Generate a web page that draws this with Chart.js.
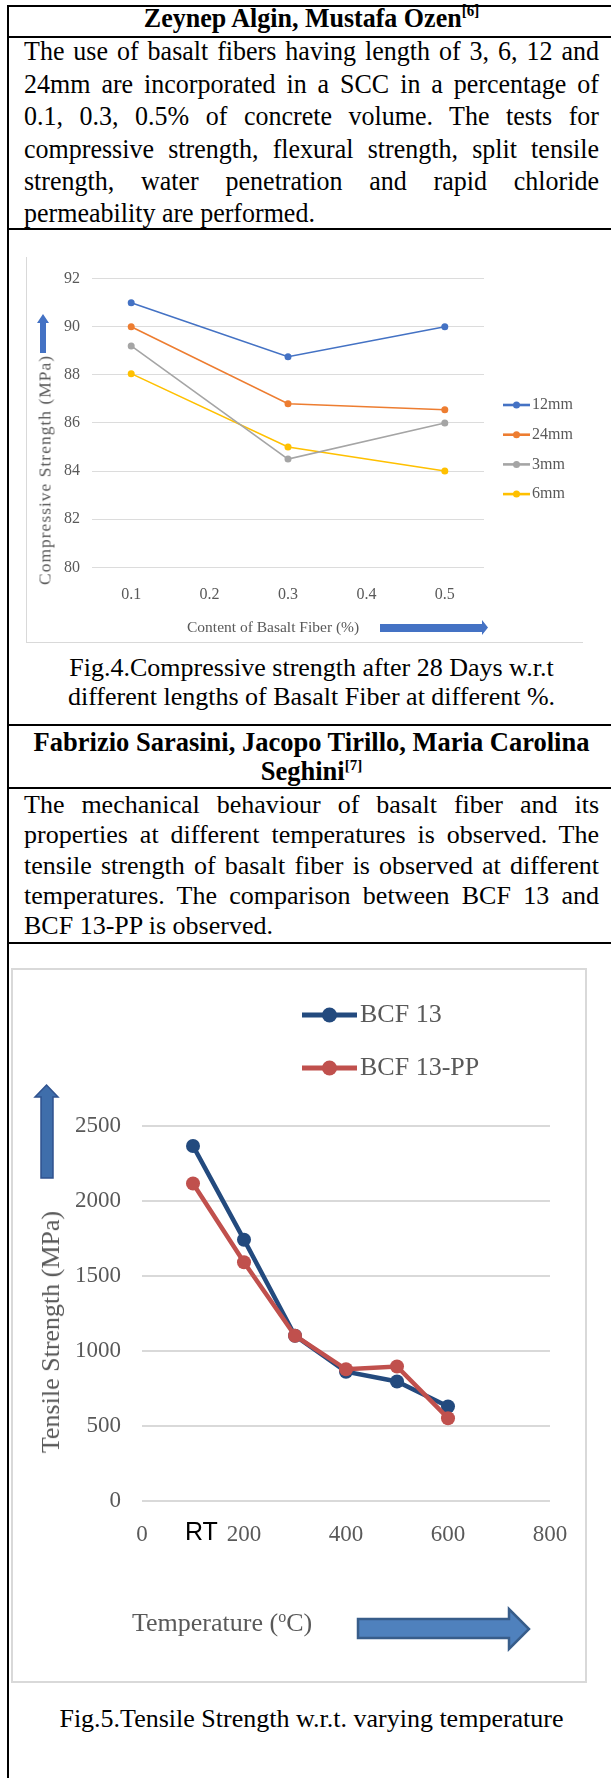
<!DOCTYPE html>
<html>
<head>
<meta charset="utf-8">
<script src="https://cdn.jsdelivr.net/npm/chart.js@4.4.1/dist/chart.umd.min.js"></script>
<style>
html,body{margin:0;padding:0;background:#fff;}
body{width:611px;height:1778px;position:relative;overflow:hidden;font-family:"Liberation Serif","Times New Roman",serif;color:#000;}
.hl{position:absolute;background:#000;height:2px;left:7px;width:604px;}
.vl{position:absolute;background:#000;width:2px;left:7px;top:5px;height:1773px;}
.t{position:absolute;left:24px;width:575px;font-size:26px;line-height:30px;height:30px;}
.s{transform:scaleY(1.09);}
.j{text-align:justify;text-align-last:justify;}
.c{left:0;width:623px;text-align:center;}
.b{font-weight:bold;}
.sp{font-size:15px;line-height:0;vertical-align:baseline;position:relative;top:-10px;}
.gray{color:#595959;}
.box{position:absolute;}
.rot{position:absolute;transform:translate(-50%,-50%) rotate(-90deg);white-space:nowrap;}
</style>
</head>
<body>
<!-- table rules -->
<div class="hl" style="top:5px"></div>
<div class="hl" style="top:36px"></div>
<div class="hl" style="top:228px"></div>
<div class="hl" style="top:724px"></div>
<div class="hl" style="top:787px"></div>
<div class="hl" style="top:942px"></div>
<div class="vl"></div>

<div class="t c b s" style="top:3px">Zeynep Algin, Mustafa Ozen<span class="sp">[6]</span></div>
<div class="t j s" style="top:36px">The use of basalt fibers having length of 3, 6, 12 and</div>
<div class="t j s" style="top:68.5px">24mm are incorporated in a SCC in a percentage of</div>
<div class="t j s" style="top:101px">0.1, 0.3, 0.5% of concrete volume. The tests for</div>
<div class="t j s" style="top:133.5px">compressive strength, flexural strength, split tensile</div>
<div class="t j s" style="top:166px">strength, water penetration and rapid chloride</div>
<div class="t s" style="top:198px">permeability are performed.</div>

<!-- chart 1 frame -->
<div class="box" style="left:26px;top:257px;width:1px;height:386px;background:#D9D9D9"></div>
<div class="box" style="left:26px;top:642px;width:557px;height:1px;background:#D9D9D9"></div>
<div class="box" style="left:26px;top:257px;width:557px;height:386px"><canvas id="c1"></canvas></div>
<div class="rot gray" style="left:45px;top:470px;font-size:17.5px;letter-spacing:1px">Compressive Strength (MPa)</div>
<div class="box gray" style="left:187px;top:617px;font-size:15.5px;line-height:20px;white-space:nowrap">Content of Basalt Fiber (%)</div>

<div class="t c" style="top:653px">Fig.4.Compressive strength after 28 Days w.r.t</div>
<div class="t c" style="top:682px">different lengths of Basalt Fiber at different %.</div>

<div class="t c b" style="top:727px;font-size:26.5px">Fabrizio Sarasini, Jacopo Tirillo, Maria Carolina</div>
<div class="t c b" style="top:756px;font-size:26.5px">Seghini<span class="sp">[7]</span></div>
<div class="t j" style="top:790px">The mechanical behaviour of basalt fiber and its</div>
<div class="t j" style="top:820px">properties at different temperatures is observed. The</div>
<div class="t j" style="top:851px">tensile strength of basalt fiber is observed at different</div>
<div class="t j" style="top:881px">temperatures. The comparison between BCF 13 and</div>
<div class="t" style="top:911px">BCF 13-PP is observed.</div>

<!-- chart 2 frame -->
<div class="box" style="left:11px;top:968px;width:576px;height:715px;border:2px solid #D9D9D9;box-sizing:border-box"></div>
<div class="box" style="left:11px;top:968px;width:576px;height:715px"><canvas id="c2"></canvas></div>
<div class="rot gray" style="left:51px;top:1332px;font-size:26px">Tensile Strength (MPa)</div>
<div class="box gray" style="left:132px;top:1607px;font-size:26px;line-height:32px;white-space:nowrap">Temperature (<span style="font-size:16px;position:relative;top:-9px">o</span>C)</div>
<div class="box" style="left:185px;top:1515px;font-size:25px;line-height:32px;font-family:'Liberation Sans Narrow','Liberation Sans',sans-serif;color:#000">RT</div>

<div class="t c" style="top:1704px">Fig.5.Tensile Strength w.r.t. varying temperature</div>

<svg width="611" height="1778" style="position:absolute;left:0;top:0;pointer-events:none">
  <polygon points="43,314 49,323 46,323 46,353 40,353 40,323 37,323" fill="#4472C4"/>
  <polygon points="380,624 482,624 482,620 488,627.5 482,635 482,632 380,632" fill="#4472C4"/>
  <polygon points="46.5,1085 58,1097 53,1097 53,1178 41,1178 41,1097 35,1097" fill="#3F6EAB" stroke="#2F528F" stroke-width="1.5"/>
  <polygon points="358,1619 509,1619 509,1609 529,1629 509,1649 509,1638 358,1638" fill="#4F81BD" stroke="#385D8A" stroke-width="2.5"/>
</svg>

<script>
// ---------- Chart 1 data ----------
const fiberContent = ['0.1', '0.2', '0.3', '0.4', '0.5'];
const seriesNames1 = ['12mm', '24mm', '3mm', '6mm'];
const cs12mm = [91.0, null, 88.75, null, 90.0];
const cs24mm = [90.0, null, 86.8, null, 86.55];
const cs3mm  = [89.2, null, 84.5, null, 86.0];
const cs6mm  = [88.05, null, 85.0, null, 84.0];
const csMin = 80, csMax = 92, csStep = 2;

// ---------- Chart 2 data ----------
const temperatures = [100, 200, 300, 400, 500, 600];
const seriesNames2 = ['BCF 13', 'BCF 13-PP'];
const tsBCF13   = [2365, 1740, 1100, 860, 795, 628];
const tsBCF13PP = [2115, 1590, 1100, 876, 895, 550];
const tsMin = 0, tsMax = 2500, tsStep = 500;
const tempMin = 0, tempMax = 800, tempStep = 200;

const SERIF = "'Liberation Serif','Times New Roman',serif";
const GRAY = '#595959';
const plain = v => String(v);

const sideLegend = {
  id: 'sideLegend',
  afterDraw(chart, args, o) {
    const ctx = chart.ctx;
    ctx.save();
    chart.data.datasets.forEach((ds, i) => {
      const y = o.y + i * o.gap;
      ctx.strokeStyle = ds.borderColor;
      ctx.lineWidth = o.lineWidth;
      ctx.beginPath(); ctx.moveTo(o.x0, y); ctx.lineTo(o.x1, y); ctx.stroke();
      ctx.fillStyle = ds.borderColor;
      ctx.beginPath(); ctx.arc((o.x0 + o.x1) / 2, y, o.r, 0, Math.PI * 2); ctx.fill();
      ctx.fillStyle = o.color;
      ctx.font = o.font;
      ctx.textBaseline = 'middle';
      ctx.textAlign = 'left';
      ctx.fillText(ds.label, o.tx, y);
    });
    ctx.restore();
  }
};

function ds1(label, data, color) {
  return { label, data, borderColor: color, backgroundColor: color, borderWidth: 1.6,
    pointRadius: 3.5, pointBorderWidth: 0, pointBackgroundColor: color, spanGaps: true, tension: 0 };
}

new Chart(document.getElementById('c1'), {
  type: 'line',
  data: {
    labels: fiberContent,
    datasets: [
      ds1(seriesNames1[0], cs12mm, '#4472C4'),
      ds1(seriesNames1[1], cs24mm, '#ED7D31'),
      ds1(seriesNames1[2], cs3mm, '#A5A5A5'),
      ds1(seriesNames1[3], cs6mm, '#FFC000')
    ]
  },
  options: {
    responsive: true, maintainAspectRatio: false, animation: false, devicePixelRatio: 1,
    layout: { padding: { left: 6, right: 99, top: 16.3, bottom: 39.7 } },
    plugins: {
      legend: { display: false }, tooltip: { enabled: false },
      sideLegend: { x0: 477, x1: 504, tx: 506, y: 148, gap: 29.7, lineWidth: 2.6, r: 3.5,
        font: '16px ' + SERIF, color: GRAY }
    },
    scales: {
      x: {
        type: 'category', offset: true,
        grid: { display: false }, border: { display: false },
        ticks: { font: { family: SERIF, size: 16 }, color: GRAY, padding: 10, maxRotation: 0 },
        afterFit: s => { s.height = 36; }
      },
      y: {
        min: csMin, max: csMax,
        ticks: { stepSize: csStep, font: { family: SERIF, size: 16 }, color: GRAY, padding: 12, callback: plain },
        grid: { color: '#DCDCDC', lineWidth: 1, drawTicks: false }, border: { display: false },
        afterFit: s => { s.width = 60; }
      }
    }
  },
  plugins: [sideLegend]
});

function ds2(label, ys, color, order) {
  return { label, data: temperatures.map((t, i) => ({ x: t, y: ys[i] })), borderColor: color,
    backgroundColor: color, borderWidth: 4.5, pointRadius: 7, pointBorderWidth: 0,
    pointBackgroundColor: color, tension: 0, order };
}

new Chart(document.getElementById('c2'), {
  type: 'line',
  data: {
    datasets: [
      ds2(seriesNames2[0], tsBCF13, '#234A7E', 2),
      ds2(seriesNames2[1], tsBCF13PP, '#C0504D', 1)
    ]
  },
  options: {
    responsive: true, maintainAspectRatio: false, animation: false, devicePixelRatio: 1,
    layout: { padding: { left: 6, right: 37, top: 157.7, bottom: 132.3 } },
    plugins: {
      legend: { display: false }, tooltip: { enabled: false },
      sideLegend: { x0: 291, x1: 346, tx: 349, y: 47, gap: 53, lineWidth: 5, r: 7.5,
        font: '26px ' + SERIF, color: GRAY }
    },
    scales: {
      x: {
        type: 'linear', min: tempMin, max: tempMax,
        grid: { display: false }, border: { display: false },
        ticks: { stepSize: tempStep, font: { family: SERIF, size: 23 }, color: GRAY, padding: 12, maxRotation: 0, callback: plain },
        afterFit: s => { s.height = 50; }
      },
      y: {
        min: tsMin, max: tsMax,
        ticks: { stepSize: tsStep, font: { family: SERIF, size: 23 }, color: GRAY, padding: 21, callback: plain },
        grid: { color: '#D9D9D9', lineWidth: 2, drawTicks: false }, border: { display: false },
        afterFit: s => { s.width = 125; }
      }
    }
  },
  plugins: [sideLegend]
});
</script>
</body>
</html>
